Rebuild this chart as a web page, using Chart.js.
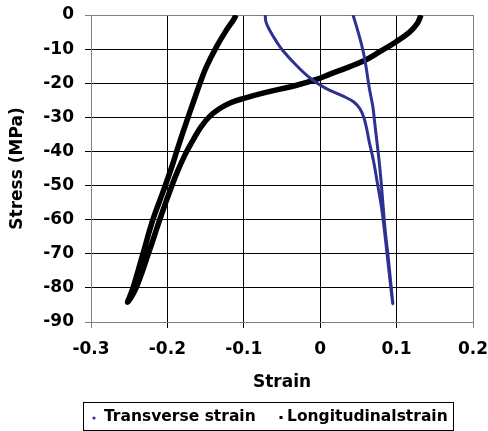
<!DOCTYPE html>
<html>
<head>
<meta charset="utf-8">
<script src="https://cdn.jsdelivr.net/npm/chart.js@4.4.1/dist/chart.umd.min.js"></script>
<style>
  html, body { margin: 0; padding: 0; background: #fff; }
  canvas { display: block; }
</style>
</head>
<body>
<canvas id="c" width="488" height="431"></canvas>
<script>
// ---- data ----
const seriesNames = ['Transverse strain', 'Longitudinalstrain'];

const transStrain = [-0.072, -0.071, -0.066, -0.058, -0.049, -0.031, -0.012, 0.008, 0.030, 0.044, 0.052, 0.057, 0.061, 0.064, 0.070, 0.075, 0.080, 0.084, 0.088, 0.092, 0.095,
                     0.093, 0.089, 0.085, 0.082, 0.080, 0.077, 0.074, 0.071, 0.069, 0.064, 0.060, 0.056, 0.049, 0.043];
const transStress = [0, -2.0, -4.5, -7.5, -10.4, -14.8, -18.7, -21.6, -23.8, -25.5, -27.5, -30.0, -33.5, -37.0, -43.0, -49.5, -56.0, -63.0, -71.0, -79.0, -84.6,
                     -80.0, -71.0, -63.0, -55.0, -49.5, -42.5, -36.7, -30.9, -27.0, -21.1, -15.2, -10.4, -4.5, 0];

const longStrain = [0.132, 0.127, 0.117, 0.099, 0.077, 0.060, 0.038, 0.012, -0.005, -0.031, -0.075, -0.101, -0.118, -0.132, -0.145, -0.156, -0.166, -0.177, -0.188, -0.199, -0.210, -0.225, -0.241, -0.252,
                    -0.245, -0.232, -0.219, -0.206, -0.195, -0.185, -0.175, -0.166, -0.157, -0.149, -0.136, -0.123, -0.114, -0.110];
const longStress = [0, -2.5, -5.0, -7.9, -10.9, -13.1, -15.2, -17.4, -18.9, -20.6, -22.9, -24.5, -25.8, -27.5, -29.8, -32.8, -36.5, -41.0, -46.5, -53.0, -60.0, -70.0, -80.0, -84.2,
                    -80.0, -70.0, -60.0, -52.0, -45.0, -38.0, -31.3, -25.5, -19.8, -15.2, -9.4, -4.5, -1.6, 0];

const xTickValues = [-0.3, -0.2, -0.1, 0, 0.1, 0.2];
const xTickLabels = ['-0.3', '-0.2', '-0.1', '0', '0.1', '0.2'];
const yTickValues = [-90, -80, -70, -60, -50, -40, -30, -20, -10, 0];
const yTickLabels = ['-90', '-80', '-70', '-60', '-50', '-40', '-30', '-20', '-10', '0'];

const xTitle = 'Strain';
const yTitle = 'Stress (MPa)';

// ---- build ----
const toPoints = (xs, ys) => xs.map((x, i) => ({ x: x, y: ys[i] }));
const FONT = 'DejaVu Sans';
const tickFont = { family: FONT, size: 17, weight: 'bold' };

const edgeGray = '#808080';

const legendBox = {
  id: 'legendBox',
  afterDraw(chart) {
    const c = chart.ctx;
    const ds = chart.data.datasets;
    c.save();
    c.strokeStyle = '#000';
    c.lineWidth = 1;
    c.strokeRect(83.5, 402.5, 370, 28);
    c.font = 'bold 15.5px "DejaVu Sans"';
    c.textBaseline = 'middle';
    c.textAlign = 'left';
    const yMid = 417;
    c.fillStyle = ds[0].borderColor;
    c.beginPath();
    c.arc(94, yMid + 1, 1.6, 0, Math.PI * 2);
    c.fill();
    c.fillStyle = '#000';
    c.fillText(ds[0].label, 104, yMid);
    c.fillStyle = ds[1].borderColor;
    c.fillRect(279.5, yMid - 1, 3, 3);
    c.fillStyle = '#000';
    c.fillText(ds[1].label, 287, yMid);
    c.restore();
  }
};

new Chart(document.getElementById('c'), {
  type: 'scatter',
  data: {
    datasets: [
      {
        label: seriesNames[0],
        data: toPoints(transStrain, transStress),
        showLine: true,
        borderColor: '#2E3192',
        backgroundColor: '#2E3192',
        borderWidth: 3,
        pointRadius: 0,
        tension: 0.4,
        fill: false
      },
      {
        label: seriesNames[1],
        data: toPoints(longStrain, longStress),
        showLine: true,
        borderColor: '#000000',
        backgroundColor: '#000000',
        borderWidth: 5.5,
        pointRadius: 0,
        tension: 0.4,
        fill: false
      }
    ]
  },
  options: {
    responsive: false,
    animation: false,
    devicePixelRatio: 1,
    layout: { padding: { left: 0, right: 15, top: 15, bottom: 34 } },
    plugins: { legend: { display: false }, tooltip: { enabled: false } },
    scales: {
      x: {
        type: 'linear',
        min: -0.3,
        max: 0.2,
        afterBuildTicks: s => { s.ticks = xTickValues.map(v => ({ value: v })); },
        afterFit: s => { s.height = 75; s.paddingLeft = 0; s.paddingRight = 0; },
        ticks: {
          callback: (v, i) => xTickLabels[i],
          font: tickFont,
          color: '#000',
          padding: 11,
          maxRotation: 0,
          autoSkip: false
        },
        grid: {
          color: ctx => (ctx.index === 0 || ctx.index === xTickValues.length - 1) ? edgeGray : '#000',
          lineWidth: 1,
          tickLength: 6
        },
        border: { color: edgeGray, width: 1 },
        title: { display: true, text: xTitle, font: tickFont, color: '#000', padding: { top: 0, bottom: 4 } }
      },
      y: {
        type: 'linear',
        min: -90,
        max: 0,
        afterBuildTicks: s => { s.ticks = yTickValues.map(v => ({ value: v })); },
        afterFit: s => { s.width = 91; s.paddingTop = 0; s.paddingBottom = 0; },
        ticks: {
          callback: (v, i) => yTickLabels[i],
          font: tickFont,
          color: '#000',
          padding: 11,
          autoSkip: false
        },
        grid: {
          color: ctx => (ctx.index === 0 || ctx.index === yTickValues.length - 1) ? edgeGray : '#000',
          lineWidth: 1,
          tickLength: 6
        },
        border: { color: edgeGray, width: 1 },
        title: { display: true, text: yTitle, font: tickFont, color: '#000', padding: { top: 7, bottom: 0 } }
      }
    }
  },
  plugins: [legendBox]
});
</script>
</body>
</html>
